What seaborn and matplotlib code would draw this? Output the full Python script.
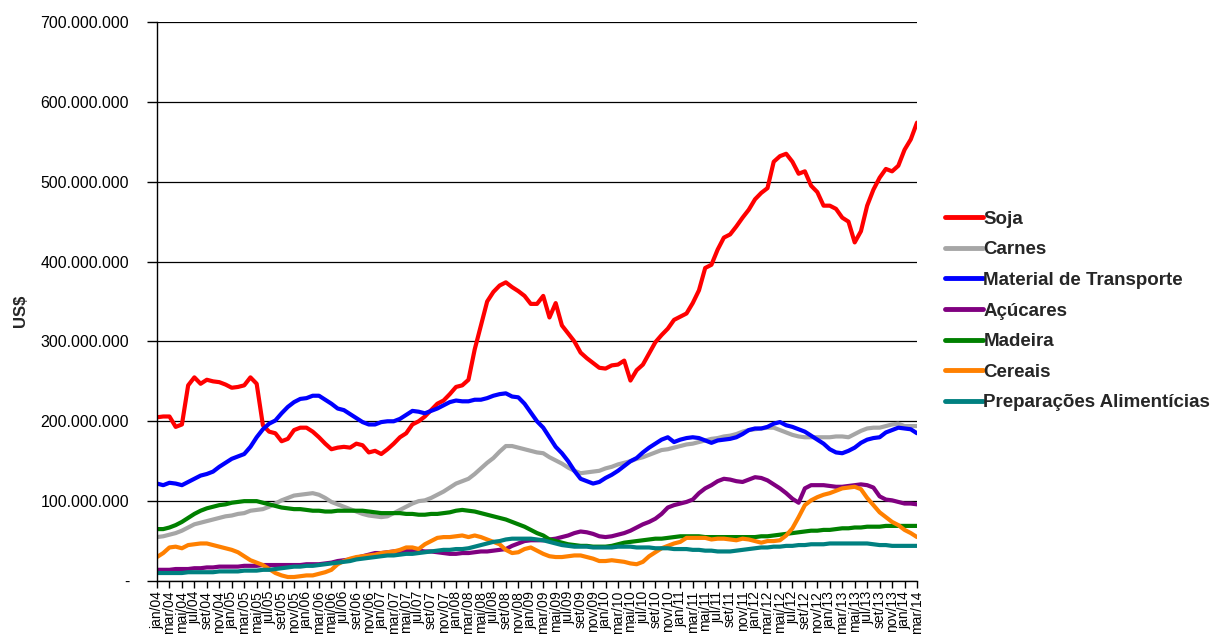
import pandas as pd
import seaborn as sns
import matplotlib.pyplot as plt
from matplotlib.ticker import FuncFormatter

# --- data (US$ millions, monthly jan/04 .. mar/14) ---
meses_pt = ['jan', 'fev', 'mar', 'abr', 'mai', 'jun', 'jul', 'ago', 'set', 'out', 'nov', 'dez']
meses = [f"{m}/{str(a)[-2:]}" for a in range(2004, 2015) for m in meses_pt][:123]

soja = [205, 206, 206, 193, 196, 245, 255, 247, 252, 250, 249, 246, 242, 243, 245, 255, 247, 195, 187, 185,
        175, 178, 189, 192, 192, 187, 180, 172, 165, 167, 168, 167, 172, 170, 161, 163, 159, 165, 172, 180,
        185, 196, 200, 206, 214, 222, 226, 234, 243, 245, 252, 290, 320, 350, 362, 370, 374, 368, 363, 357,
        347, 347, 357, 330, 348, 320, 310, 300, 286, 279, 273, 267, 266, 270, 271, 276, 251, 264, 271, 285,
        299, 308, 316, 327, 331, 335, 348, 364, 392, 396, 415, 430, 434, 444, 455, 465, 478, 486, 492, 525,
        532, 535, 525, 510, 513, 495, 487, 470, 470, 466, 455, 450, 424, 438, 470, 490, 505, 516, 513, 520,
        540, 553, 574]
carnes = [55, 56, 58, 60, 63, 67, 71, 73, 75, 77, 79, 81, 82, 84, 85, 88, 89, 90, 93, 97,
          101, 104, 107, 108, 109, 110, 108, 104, 99, 96, 93, 90, 87, 84, 82, 81, 80, 81, 85, 89,
          93, 97, 100, 101, 104, 108, 112, 117, 122, 125, 128, 134, 141, 148, 154, 162, 169, 169, 167, 165,
          163, 161, 160, 155, 151, 147, 142, 138, 135, 136, 137, 138, 141, 143, 146, 148, 150, 153, 155, 158,
          161, 164, 165, 167, 169, 171, 172, 174, 176, 178, 179, 181, 182, 184, 187, 189, 190, 191, 192, 192,
          189, 186, 183, 181, 180, 180, 180, 180, 180, 181, 181, 180, 184, 188, 191, 192, 192, 194, 196, 197,
          194, 194, 194]
transporte = [122, 120, 123, 122, 120, 124, 128, 132, 134, 137, 143, 148, 153, 156, 159, 168, 180, 190, 197, 201,
              210, 218, 224, 228, 229, 232, 232, 227, 222, 216, 214, 209, 204, 199, 196, 196, 199, 200, 200, 203,
              208, 213, 212, 210, 213, 216, 220, 224, 226, 225, 225, 227, 227, 229, 232, 234, 235, 231, 230, 222,
              211, 200, 192, 180, 168, 160, 150, 138, 128, 125, 122, 124, 129, 133, 138, 144, 150, 154, 161, 167,
              172, 177, 180, 174, 177, 179, 180, 179, 176, 173, 176, 177, 178, 180, 184, 189, 191, 191, 193, 197,
              199, 195, 193, 190, 187, 182, 177, 172, 165, 161, 160, 163, 167, 173, 177, 179, 180, 186, 189, 192,
              191, 190, 185]
acucares = [14, 14, 14, 15, 15, 15, 16, 16, 17, 17, 18, 18, 18, 18, 19, 19, 19, 20, 20, 20,
            20, 20, 20, 20, 21, 21, 21, 22, 23, 25, 26, 27, 29, 31, 33, 35, 35, 36, 37, 37,
            38, 39, 38, 37, 37, 36, 35, 34, 34, 35, 35, 36, 37, 37, 38, 39, 40, 44, 47, 50,
            51, 51, 51, 52, 53, 55, 57, 60, 62, 61, 59, 56, 55, 56, 58, 60, 63, 67, 71, 74,
            78, 84, 92, 95, 97, 99, 102, 110, 116, 120, 125, 128, 127, 125, 124, 127, 130, 129, 126, 121,
            116, 110, 103, 98, 116, 120, 120, 120, 119, 118, 118, 119, 120, 121, 120, 117, 106, 102, 101, 99,
            97, 97, 96]
madeira = [65, 65, 67, 70, 74, 79, 84, 88, 91, 93, 95, 96, 98, 99, 100, 100, 100, 98, 96, 94,
           92, 91, 90, 90, 89, 88, 88, 87, 87, 88, 88, 88, 88, 88, 87, 86, 85, 85, 85, 85,
           84, 84, 83, 83, 84, 84, 85, 86, 88, 89, 88, 87, 85, 83, 81, 79, 77, 74, 71, 68,
           64, 60, 57, 52, 50, 48, 46, 45, 44, 44, 43, 43, 43, 44, 46, 48, 49, 50, 51, 52,
           53, 53, 54, 55, 56, 56, 56, 56, 55, 55, 55, 55, 55, 55, 55, 55, 55, 56, 56, 57,
           58, 59, 60, 61, 62, 63, 63, 64, 64, 65, 66, 66, 67, 67, 68, 68, 68, 69, 69, 69,
           69, 69, 69]
cereais = [30, 35, 42, 43, 41, 45, 46, 47, 47, 45, 43, 41, 39, 36, 31, 26, 23, 20, 15, 10,
           7, 5, 5, 6, 7, 7, 9, 11, 14, 21, 25, 28, 30, 31, 32, 33, 35, 36, 37, 39,
           42, 42, 40, 46, 50, 54, 55, 55, 56, 57, 55, 57, 55, 52, 49, 46, 39, 35, 36, 40,
           42, 38, 34, 31, 30, 30, 31, 32, 32, 30, 28, 25, 25, 26, 25, 24, 22, 21, 24, 31,
           36, 41, 44, 47, 49, 54, 54, 54, 54, 52, 53, 53, 52, 51, 53, 52, 50, 48, 50, 50,
           51, 57, 66, 80, 95, 101, 105, 108, 110, 113, 116, 117, 118, 115, 104, 95, 86, 80, 74, 70,
           64, 60, 55]
preparacoes = [10, 10, 10, 10, 10, 11, 11, 11, 11, 11, 12, 12, 12, 12, 13, 13, 13, 14, 14, 15,
               16, 17, 18, 18, 19, 19, 20, 21, 22, 23, 24, 25, 27, 28, 29, 30, 31, 32, 32, 33,
               34, 34, 35, 36, 37, 38, 39, 39, 40, 40, 41, 43, 45, 47, 49, 50, 52, 53, 53, 53,
               53, 52, 51, 49, 47, 45, 44, 43, 43, 43, 42, 42, 42, 42, 43, 43, 43, 42, 42, 42,
               41, 41, 41, 40, 40, 40, 39, 39, 38, 38, 37, 37, 37, 38, 39, 40, 41, 42, 42, 43,
               43, 44, 44, 45, 45, 46, 46, 46, 47, 47, 47, 47, 47, 47, 47, 46, 45, 45, 44, 44,
               44, 44, 44]

series = {
    "Soja": soja,
    "Carnes": carnes,
    "Material de Transporte": transporte,
    "Açúcares": acucares,
    "Madeira": madeira,
    "Cereais": cereais,
    "Preparações Alimentícias": preparacoes,
}
cores = {
    "Soja": "#FF0000",
    "Carnes": "#A6A6A6",
    "Material de Transporte": "#0000FF",
    "Açúcares": "#800080",
    "Madeira": "#008000",
    "Cereais": "#FF8000",
    "Preparações Alimentícias": "#008080",
}

rows = []
for nome, vals in series.items():
    for i, v in enumerate(vals):
        rows.append({"mes": i, "valor": v * 1e6, "produto": nome})
df = pd.DataFrame(rows)

# --- plot ---
sns.set_style("white")
plt.rcParams['font.family'] = ['Liberation Sans', 'DejaVu Sans']

fig = plt.figure(figsize=(12.24, 6.44), dpi=100)
ax = fig.add_axes([157 / 1224, 63 / 644, 760 / 1224, 559 / 644])

sns.lineplot(data=df, x="mes", y="valor", hue="produto", hue_order=list(series.keys()),
             palette=cores, linewidth=3, ax=ax)
for ln in ax.lines:
    ln.set_solid_joinstyle('round')
    ln.set_solid_capstyle('round')

ax.set_xlim(0, len(meses) - 1)
ax.set_ylim(0, 700e6)
ax.set_yticks([i * 100e6 for i in range(8)])
ax.yaxis.set_major_formatter(FuncFormatter(
    lambda v, p: "-" if v == 0 else f"{int(round(v)):,}".replace(",", ".")))
ax.set_xticks(range(0, len(meses), 2))
ax.set_xticklabels(meses[::2], rotation=90)

ax.tick_params(axis='y', left=True, length=7, width=1, pad=13, labelsize=11.4, colors='black')
ax.tick_params(axis='x', bottom=True, length=5, width=1, pad=2, labelsize=10, colors='black')

ax.yaxis.grid(True, color='black', linewidth=0.9)
ax.set_axisbelow(True)
for s in ['top', 'right']:
    ax.spines[s].set_visible(False)
for s in ['left', 'bottom']:
    ax.spines[s].set_color('black')
    ax.spines[s].set_linewidth(1)

ax.set_xlabel("")
ax.set_ylabel("US$", fontsize=12, fontweight='bold')
ax.yaxis.set_label_coords(-0.17, 0.483)

handles, labels = ax.get_legend_handles_labels()
leg = ax.legend(handles, labels, loc='center left', bbox_to_anchor=(945 / 1224, 0.517),
                bbox_transform=fig.transFigure, frameon=False,
                prop={'weight': 'bold', 'size': 13.5}, handlelength=2.0,
                handletextpad=0.05, labelspacing=0.72, borderpad=0, borderaxespad=0)
for h in leg.get_lines():
    h.set_linewidth(3.5)

fig.savefig("out.png", dpi=100)
